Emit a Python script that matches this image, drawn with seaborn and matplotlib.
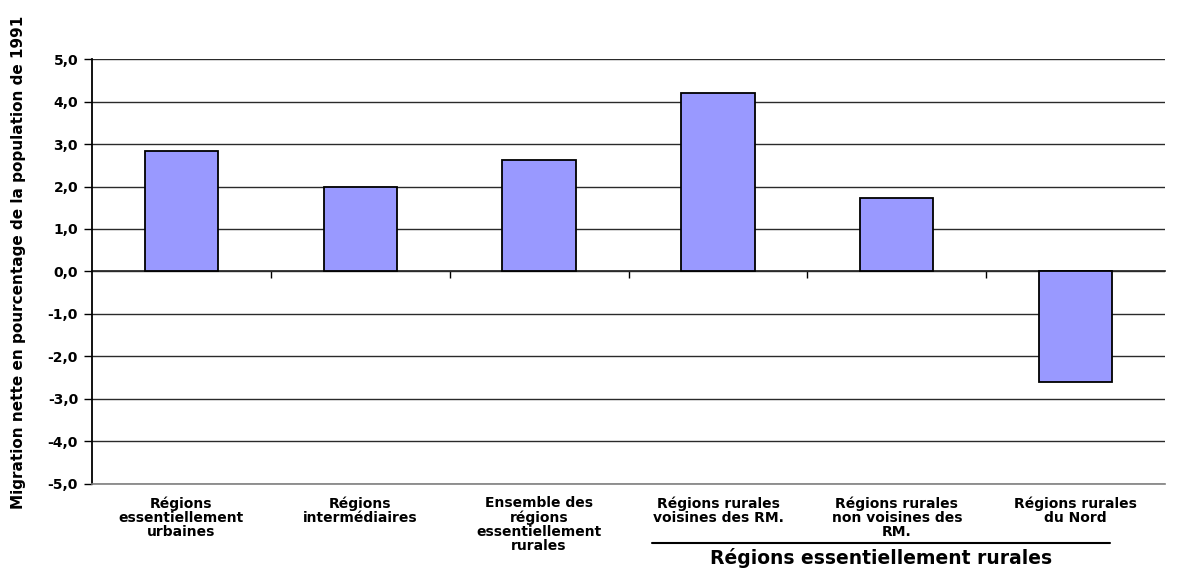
import numpy as np
import pandas as pd
import matplotlib
matplotlib.use('Agg')
import matplotlib.pyplot as plt
import matplotlib.transforms as mtransforms
import seaborn as sns

categories = [
    'Régions\nessentiellement\nurbaines',
    'Régions\nintermédiaires',
    'Ensemble des\nrégions\nessentiellement\nrurales',
    'Régions rurales\nvoisines des RM.',
    'Régions rurales\nnon voisines des\nRM.',
    'Régions rurales\ndu Nord',
]
migration = [2.83, 1.99, 2.62, 4.20, 1.73, -2.60]
y_ticks = [-5, -4, -3, -2, -1, 0, 1, 2, 3, 4, 5]
y_title = 'Migration nette en pourcentage de la population de 1991'
group_title = 'Régions essentiellement rurales'

df = pd.DataFrame({'region': categories, 'value': migration})

sns.set_theme(style='white')
plt.rcParams['font.family'] = ['DejaVu Sans']
plt.rcParams['font.weight'] = 'bold'
plt.rcParams['text.color'] = 'black'
plt.rcParams['axes.labelcolor'] = 'black'
plt.rcParams['xtick.color'] = 'black'
plt.rcParams['ytick.color'] = 'black'

fig = plt.figure(figsize=(11.78, 5.69), dpi=100)
ax = fig.add_axes([0.0781, 0.1494, 0.9109, 0.7469])

sns.barplot(data=df, x='region', y='value', color='#9999FF', saturation=1,
            width=0.41, edgecolor='black', linewidth=1.3, ax=ax, zorder=3)

ax.set_ylim(-5, 5)
ax.set_xlim(-0.5, len(categories) - 0.5)
ax.set_yticks(y_ticks)
ax.set_yticklabels([f'{v:.1f}'.replace('.', ',') for v in y_ticks],
                   fontsize=10, fontweight='bold')
ax.yaxis.grid(True, color='#2a2a2a', linewidth=1.0, zorder=0)
ax.set_axisbelow(True)

for s in ['top', 'right']:
    ax.spines[s].set_visible(False)
ax.spines['bottom'].set_color('#808080')
ax.spines['bottom'].set_linewidth(1.2)
ax.spines['left'].set_color('black')
ax.spines['left'].set_linewidth(1.3)
ax.tick_params(axis='y', direction='out', length=6, width=1, color='black',
               left=True, pad=4)

# category labels below the plot
ax.set_xticks(range(len(categories)))
ax.set_xticklabels(categories, fontsize=10, fontweight='bold', linespacing=1.0,
                   va='top')
ax.tick_params(axis='x', length=0, pad=9)
ax.set_xlabel('')
ax.set_ylabel(y_title, fontsize=11, fontweight='bold')
ax.yaxis.set_label_coords(-0.0615, 0.522)

# zero line with ticks between categories
sec = ax.secondary_xaxis(0.5)
sec.set_xticks(np.arange(len(categories) - 1) + 0.5)
sec.set_xticklabels([])
sec.tick_params(axis='x', direction='in', length=5, width=1, color='black')
sec.spines['bottom'].set_color('black')
sec.spines['bottom'].set_linewidth(1.3)

# group bracket for the rural sub-regions
trans = mtransforms.blended_transform_factory(ax.transData, ax.transAxes)
ax.plot([2.63, 5.19], [-0.139, -0.139], color='black', linewidth=1.5,
        transform=trans, clip_on=False)
ax.text(3.91, -0.175, group_title, transform=trans, ha='center', va='center',
        fontsize=13.5, fontweight='bold')

fig.savefig('out.png', dpi=100)
